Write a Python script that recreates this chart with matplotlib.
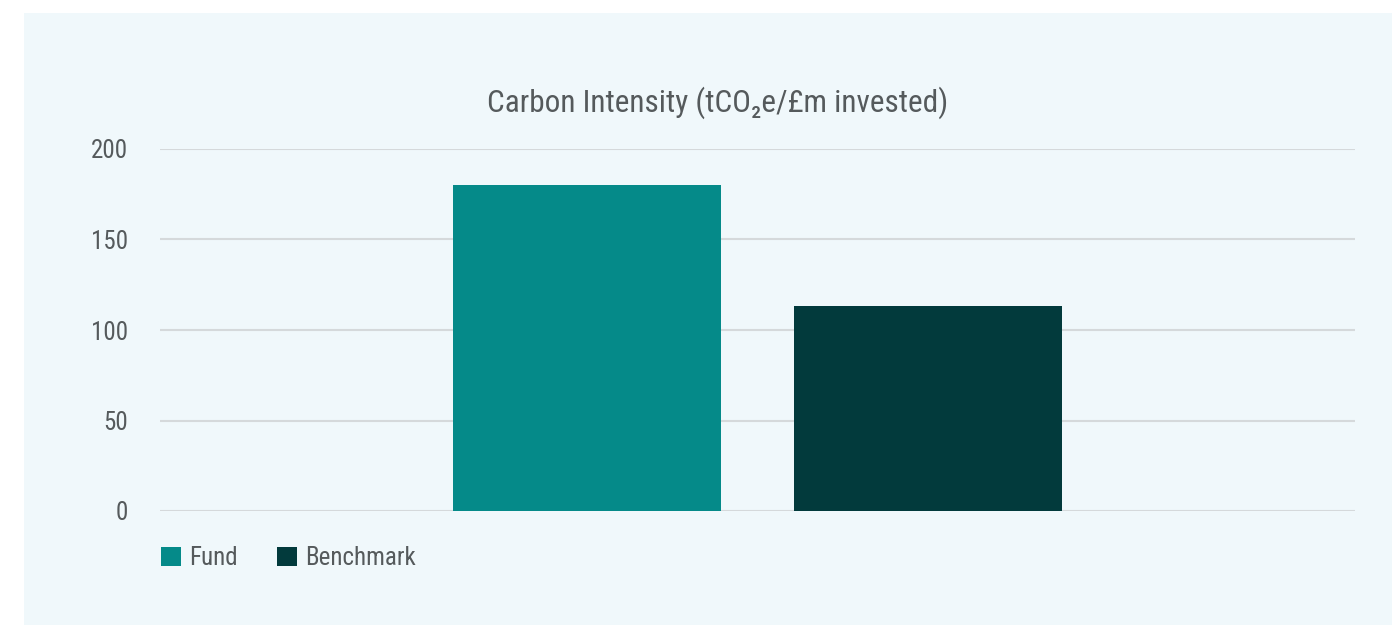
import matplotlib.pyplot as plt
from matplotlib.patches import Rectangle

# Data
series = ["Fund", "Benchmark"]
values = [180, 113]
colors = ["#058a89", "#023a3c"]
yticks = [0, 50, 100, 150, 200]
title = "Carbon Intensity (tCO\u2082e/\u00a3m invested)"

plt.rcParams['font.family'] = ['Roboto Condensed', 'DejaVu Sans']
text_col = "#555a5c"
panel_col = "#f0f8fb"

fig = plt.figure(figsize=(13.92, 6.25), dpi=100, facecolor="white")
# light blue panel behind the chart
fig.patches.append(Rectangle((24 / 1392, 0), 1 - 24 / 1392, 1 - 13 / 625,
                             transform=fig.transFigure, facecolor=panel_col,
                             edgecolor="none", zorder=-1))

ax = fig.add_axes([160 / 1392, 114 / 625, 1195 / 1392, 362 / 625])
ax.set_zorder(2)
ax.set_facecolor("none")

x = list(range(len(series)))
bars = ax.bar(x, values, width=0.786, color=colors, zorder=3)
ax.set_xlim(-1.252, 2.252)
ax.set_ylim(0, 200)
ax.set_yticks(yticks)
ax.set_xticks([])
ax.yaxis.grid(True, color="#d5d9db", linewidth=1.5, zorder=0)
ax.tick_params(axis="y", length=0, pad=23, labelsize=18, labelcolor=text_col)
for s in ax.spines.values():
    s.set_visible(False)

fig.text(718 / 1392, 1 - 103 / 625, title, ha="center", va="center",
         fontsize=22.5, color=text_col, zorder=3)

leg = ax.legend(bars, series, loc="upper left", bbox_to_anchor=(0.001, -0.096),
                ncol=2, frameon=False, fontsize=18, labelcolor=text_col,
                handlelength=0.8, handleheight=0.8, handletextpad=0.3,
                columnspacing=1.6, borderaxespad=0, borderpad=0)

fig.savefig("out.png", dpi=100, facecolor=fig.get_facecolor())
